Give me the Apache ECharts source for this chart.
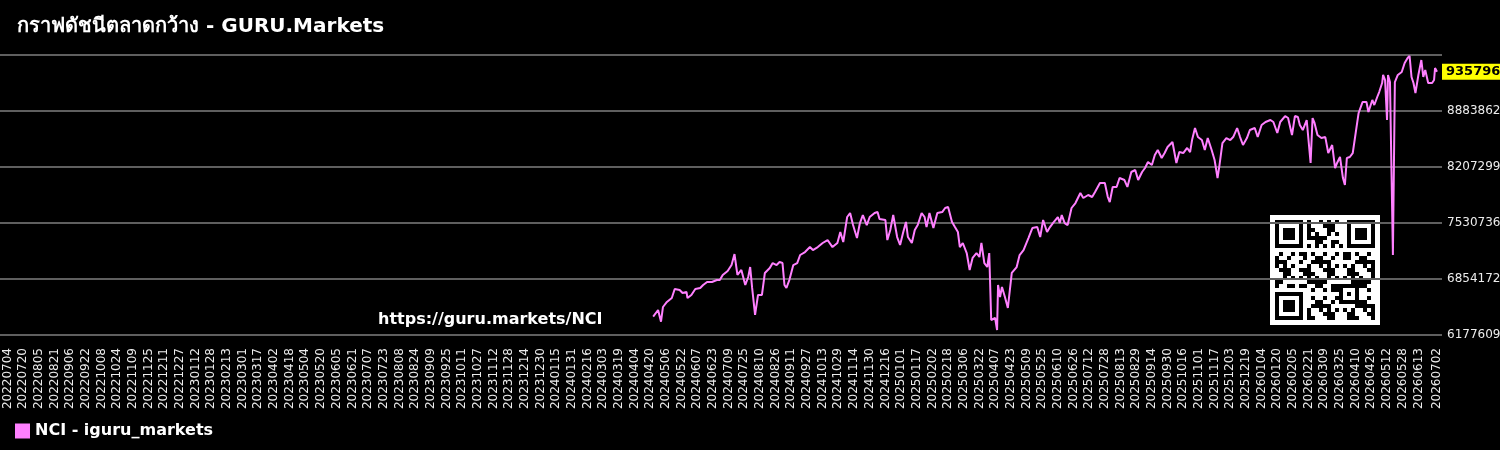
<!DOCTYPE html>
<html>
<head>
<meta charset="utf-8">
<title>NCI - GURU.Markets</title>
<script src="https://cdn.jsdelivr.net/npm/echarts@6/dist/echarts.min.js"></script>
<style>
    html, body { margin: 0; padding: 0; background: #000; }
    #chart { width: 1500px; height: 450px; }
</style>
</head>
<body>
<div id="chart"></div>
<script>
// category axis: one category per calendar day
var startDate = '20220704',
    endDate = '20260702';

// y axis tick labels
var yTicks = [6177609, 6854172, 7530736, 8207299, 8883862, 9560425];

// NCI readings (value in thousands)
var sampleDates = [
    '20240423','20240425','20240428','20240501','20240503','20240507','20240512','20240515','20240520','20240523',
    '20240527','20240528','20240601','20240605','20240610','20240613','20240617','20240622','20240627','20240630',
    '20240703','20240708','20240712','20240715','20240717','20240718','20240722','20240726','20240729','20240731',
    '20240802','20240805','20240808','20240812','20240815','20240820','20240823','20240827','20240830','20240902',
    '20240904','20240906','20240909','20240913','20240917','20240920','20240925','20240930','20241003','20241008',
    '20241013','20241018','20241023','20241028','20241031','20241103','20241107','20241110','20241113','20241117',
    '20241120','20241123','20241127','20241130','20241205','20241208','20241210','20241216','20241218','20241221',
    '20241224','20241228','20241231',
    '20250103','20250106','20250108','20250112','20250115','20250118','20250122','20250125','20250127','20250130',
    '20250203','20250207','20250212','20250215','20250218','20250222','20250225','20250228','20250302','20250305',
    '20250309','20250312','20250315','20250319','20250322','20250324','20250327','20250330','20250401','20250403',
    '20250407','20250409','20250410','20250412','20250414','20250417','20250420','20250424','20250429','20250502',
    '20250506','20250511','20250515','20250520','20250523','20250526','20250530','20250602','20250605','20250610',
    '20250612','20250614','20250617','20250620','20250624','20250628','20250703','20250706','20250711','20250715',
    '20250718','20250723','20250728','20250731','20250802','20250805','20250809','20250812','20250817','20250820',
    '20250824','20250828','20250831','20250904','20250907','20250910','20250914','20250917','20250920','20250924',
    '20250927','20250930','20251005','20251009','20251012','20251016','20251020','20251023','20251025','20251028',
    '20251031','20251104','20251107','20251110','20251114','20251117','20251120','20251122','20251125','20251129',
    '20251203','20251206','20251210','20251213','20251216','20251220','20251223','20251228','20251231',
    '20260104','20260108','20260113','20260116','20260120','20260123','20260128','20260131','20260204','20260207',
    '20260210','20260212','20260215','20260219','20260221','20260223','20260225','20260227','20260302','20260306',
    '20260310','20260313','20260317','20260320','20260322','20260325','20260328','20260330','20260401','20260404',
    '20260407','20260410','20260413','20260417','20260419','20260421','20260423','20260427','20260429','20260502',
    '20260504','20260507','20260508','20260510','20260512','20260513','20260515','20260517','20260518','20260520',
    '20260522','20260523','20260527','20260530','20260602','20260604','20260606','20260608','20260610','20260613',
    '20260616','20260618','20260620','20260623','20260627','20260629','20260630','20260702'
];
var sampleValues = [
    6399, 6420, 6480, 6339, 6516, 6577, 6625, 6734, 6722, 6685,
    6698, 6625, 6661, 6734, 6746, 6782, 6818, 6818, 6842, 6842,
    6903, 6951, 7023, 7156, 6987, 6903, 6963, 6782, 6878, 6999,
    6746, 6420, 6661, 6661, 6927, 6987, 7047, 7023, 7059, 7047,
    6782, 6746, 6842, 7023, 7047, 7144, 7180, 7240, 7204, 7240,
    7289, 7325, 7240, 7289, 7422, 7301, 7603, 7651, 7506, 7349,
    7530, 7627, 7506, 7603, 7651, 7663, 7579, 7567, 7325, 7446,
    7627, 7361, 7265,
    7410, 7543, 7361, 7289, 7446, 7506, 7651, 7603, 7482, 7651,
    7470, 7651, 7663, 7712, 7724, 7543, 7482, 7422, 7240, 7289,
    7168, 6963, 7108, 7168, 7120, 7289, 7047, 6999, 7168, 6359,
    6383, 6238, 6782, 6637, 6758, 6637, 6504, 6927, 6999, 7144,
    7204, 7349, 7470, 7482, 7361, 7567, 7422, 7482, 7530, 7603,
    7530, 7627, 7530, 7506, 7712, 7772, 7893, 7833, 7869, 7845,
    7905, 8014, 8014, 7845, 7784, 7966, 7966, 8074, 8050, 7966,
    8147, 8171, 8050, 8147, 8195, 8268, 8231, 8352, 8412, 8316,
    8376, 8449, 8509, 8256, 8388, 8376, 8437, 8388, 8533, 8678,
    8569, 8533, 8412, 8557, 8412, 8292, 8074, 8231, 8497, 8557,
    8533, 8569, 8678, 8569, 8473, 8557, 8654, 8678, 8569,
    8714, 8751, 8775, 8751, 8618, 8751, 8823, 8799, 8594, 8823,
    8811, 8714, 8654, 8775, 8775, 8256, 8799, 8739, 8594, 8557,
    8569, 8376, 8473, 8195, 8256, 8328, 8074, 7990, 8316, 8328,
    8376, 8618, 8860, 8992, 8980, 8992, 8872, 9017, 8956, 9053,
    9113, 9222, 9319, 9258, 8775, 9319, 9234, 9222, 7144, 9234,
    9234, 9319, 9355, 9464, 9524, 9550, 9295, 9222, 9101, 9319,
    9500, 9295, 9379, 9222, 9222, 9258, 9403, 9357.965
];

var seriesName = 'NCI - iguru_markets',
    titleText = 'กราฟดัชนีตลาดกว้าง - GURU.Markets',
    watermark = 'https://guru.markets/NCI',
    lineColor = '#ff80ff',
    fontFamily = '"DejaVu Sans", sans-serif';

function parseDay(s) {
    return new Date(Date.UTC(+s.substr(0, 4), +s.substr(4, 2) - 1, +s.substr(6, 2)));
}
function formatDay(d) {
    var m = d.getUTCMonth() + 1, day = d.getUTCDate();
    return d.getUTCFullYear() + (m < 10 ? '0' : '') + m + (day < 10 ? '0' : '') + day;
}

var categories = [];
for (var d = parseDay(startDate), end = parseDay(endDate); d <= end; d.setUTCDate(d.getUTCDate() + 1)) {
    categories.push(formatDay(d));
}

var lookup = {};
sampleDates.forEach(function (s, i) {
    lookup[s] = Math.round(sampleValues[i] * 1000);
});
var seriesData = categories.map(function (c) {
    return lookup.hasOwnProperty(c) ? lookup[c] : null;
});

var yMin = yTicks[0],
    yMax = yTicks[yTicks.length - 1],
    yInterval = (yMax - yMin) / (yTicks.length - 1);

function tickLabel(v) {
    var best = yTicks[0];
    yTicks.forEach(function (t) {
        if (Math.abs(t - v) < Math.abs(best - v)) best = t;
    });
    return String(best);
}

// QR-like badge (decoration)
function qrModules() {
    var n = 25, cells = [];
    function finder(r, c) {
        return function (rr, cc) {
            var y = rr - r, x = cc - c;
            if (y < -1 || y > 7 || x < -1 || x > 7) return null;
            if (y === -1 || y === 7 || x === -1 || x === 7) return false;
            if (y === 0 || y === 6 || x === 0 || x === 6) return true;
            if (y >= 2 && y <= 4 && x >= 2 && x <= 4) return true;
            return false;
        };
    }
    var finders = [finder(0, 0), finder(0, 18), finder(18, 0)];
    for (var r = 0; r < n; r++) {
        for (var c = 0; c < n; c++) {
            var dark = null;
            for (var k = 0; k < finders.length && dark === null; k++) dark = finders[k](r, c);
            if (dark === null && r >= 16 && r <= 20 && c >= 16 && c <= 20) {
                dark = (r === 16 || r === 20 || c === 16 || c === 20 || (r === 18 && c === 18));
            }
            if (dark === null && (r === 6 || c === 6)) dark = ((r + c) % 2 === 0);
            if (dark === null) dark = ((r * 31 + c * 17 + r * c * 7) % 11) < 5;
            if (dark) cells.push([r, c]);
        }
    }
    return cells;
}

var qrChildren = [{
    type: 'rect',
    shape: { x: 0, y: 0, width: 110, height: 110 },
    style: { fill: '#fff' }
}];
qrModules().forEach(function (rc) {
    qrChildren.push({
        type: 'rect',
        shape: { x: 5 + rc[1] * 4, y: 5 + rc[0] * 4, width: 4, height: 4 },
        style: { fill: '#000' }
    });
});

var chart = echarts.init(document.getElementById('chart'), null, { renderer: 'canvas' });

var option = {
    backgroundColor: '#000',
    animation: false,
    title: {
        text: titleText,
        left: 12,
        top: 12,
        textStyle: { color: '#fff', fontSize: 20, fontWeight: 'bold', fontFamily: fontFamily }
    },
    legend: {
        data: [seriesName],
        left: 10,
        top: 418,
        icon: 'rect',
        itemWidth: 15,
        itemHeight: 15,
        textStyle: { color: '#fff', fontSize: 16, fontWeight: 'bold', fontFamily: fontFamily }
    },
    grid: [
        { left: 7.5, right: 63, top: 55, bottom: 115, outerBoundsMode: 'none' },
        { left: 0, right: 58, top: 55, bottom: 115, outerBoundsMode: 'none' }
    ],
    xAxis: [{
        gridIndex: 0,
        type: 'category',
        data: categories,
        boundaryGap: false,
        axisLine: { show: false },
        axisTick: { show: false },
        splitLine: { show: false },
        axisLabel: {
            rotate: 90,
            interval: 15,
            showMaxLabel: true,
            margin: 13,
            color: '#ececec',
            fontSize: 12,
            fontFamily: fontFamily
        }
    }, {
        gridIndex: 1,
        type: 'category',
        data: categories,
        boundaryGap: false,
        show: false
    }],
    yAxis: [{
        gridIndex: 0,
        type: 'value',
        min: yMin,
        max: yMax,
        interval: yInterval,
        show: false
    }, {
        gridIndex: 1,
        type: 'value',
        position: 'right',
        min: yMin,
        max: yMax,
        interval: yInterval,
        axisLine: { show: false },
        axisTick: { show: false },
        splitLine: { show: true, lineStyle: { color: '#5f5f5f', width: 2 } },
        axisLabel: {
            margin: 5,
            color: '#ececec',
            fontSize: 12,
            fontFamily: fontFamily,
            showMaxLabel: false,
            formatter: tickLabel
        }
    }],
    series: [{
        name: seriesName,
        type: 'line',
        xAxisIndex: 0,
        yAxisIndex: 0,
        data: seriesData,
        connectNulls: true,
        showSymbol: false,
        color: lineColor,
        lineStyle: { color: lineColor, width: 2 },
        endLabel: {
            show: true,
            distance: 5,
            formatter: function (p) { return String(p.value); },
            backgroundColor: '#ffff00',
            color: '#000',
            fontWeight: 'bold',
            fontSize: 13,
            fontFamily: fontFamily,
            padding: [2, 4, 1, 4]
        }
    }],
    graphic: [{
        type: 'text',
        left: 378,
        top: 312,
        style: {
            text: watermark,
            fill: '#fff',
            font: 'bold 16px "DejaVu Sans", sans-serif'
        }
    }, {
        type: 'group',
        left: 1270,
        top: 215,
        children: qrChildren
    }]
};

chart.setOption(option);
</script>
</body>
</html>
